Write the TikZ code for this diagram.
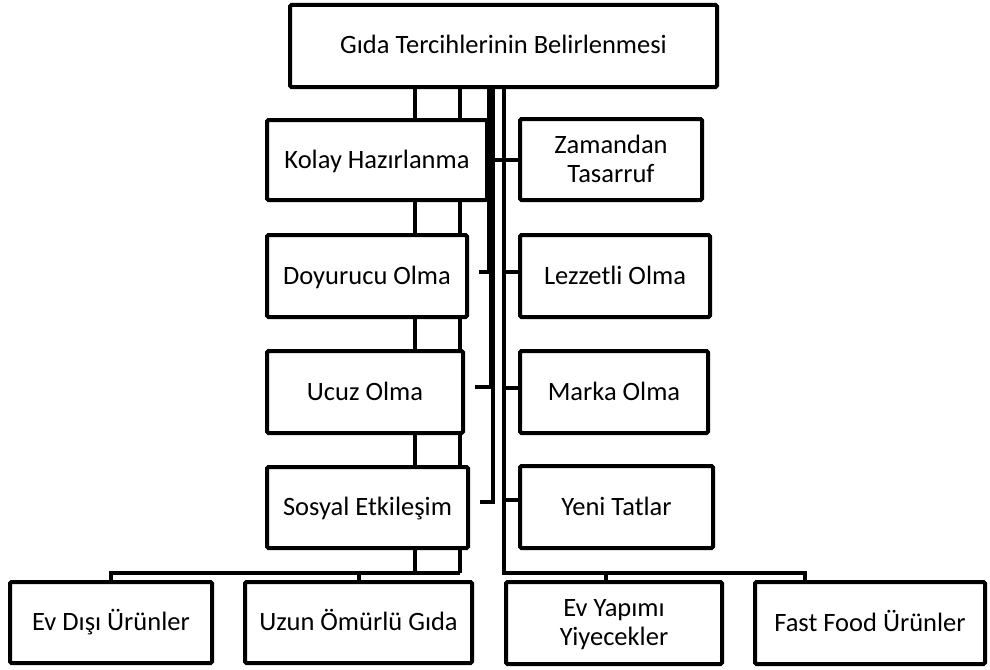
\documentclass[tikz,border=0pt]{standalone}
\usepackage{fontspec}
\setmainfont{Carlito}
\usetikzlibrary{backgrounds}
\begin{document}
\begin{tikzpicture}[x=1pt,y=-1pt,
  box/.style={draw, line width=4pt, fill=white, rounded corners=1.5pt, inner sep=0pt, align=center, text height=19pt, text depth=3pt, font=\fontsize{26.5}{29}\selectfont},
  twoline/.style={text height=48pt},
  conn/.style={line width=4pt}]
\useasboundingbox (0,0) rectangle (990,669);
% nodes
\node[box, minimum width=427pt, minimum height=82pt] (top) at (503.5,46) {Gıda Tercihlerinin Belirlenmesi};
\node[box, minimum width=220pt, minimum height=80pt] (kolay) at (377,160) {Kolay Hazırlanma};
\node[box, minimum width=200pt, minimum height=82pt] (doy) at (367,276) {Doyurucu Olma};
\node[box, minimum width=196pt, minimum height=82pt] (ucuz) at (365,392) {Ucuz Olma};
\node[box, minimum width=201pt, minimum height=81pt] (sosyal) at (367.5,507.5) {Sosyal Etkileşim};
\node[box, twoline, minimum width=182pt, minimum height=81pt] (zaman) at (611,159.5) {Zamandan\\Tasarruf};
\node[box, minimum width=190pt, minimum height=82pt] (lezz) at (615,276) {Lezzetli Olma};
\node[box, minimum width=188pt, minimum height=82pt] (marka) at (614,392) {Marka Olma};
\node[box, minimum width=193pt, minimum height=82pt] (yeni) at (616.5,507) {Yeni Tatlar};
\node[box, minimum width=202pt, minimum height=81pt] (evdisi) at (111,622.5) {Ev Dışı Ürünler};
\node[box, minimum width=227pt, minimum height=81pt] (uzun) at (358.5,622.5) {Uzun Ömürlü Gıda};
\node[box, twoline, minimum width=216pt, minimum height=82pt] (evyap) at (614,623) {Ev Yapımı\\Yiyecekler};
\node[box, minimum width=230pt, minimum height=82pt] (fast) at (870,623) {Fast Food Ürünler};
% trunk coordinates
\coordinate (ta) at (415,573);
\coordinate (tb) at (460,573);
\coordinate (td) at (489,0);
\coordinate (tu) at (491,0);
\coordinate (ts) at (493,0);
\coordinate (tz) at (495,0);
\coordinate (tR) at (504,573);
\coordinate (tf) at (805,573);
\begin{scope}[on background layer]
\draw[conn] (top.south -| ta) -- (ta);
\draw[conn] (top.south -| tb) -- (tb);
\draw[conn] (evdisi.north) -- (evdisi.north |- ta) -- (tb);
\draw[conn] (uzun.north) -- (uzun.north |- ta);
\draw[conn] (top.south -| td) |- ([xshift=10pt,yshift=4pt]doy.east);
\draw[conn] (top.south -| tu) |- ([xshift=10pt,yshift=5pt]ucuz.east);
\draw[conn] (top.south -| ts) |- ([xshift=10pt,yshift=6pt]sosyal.east);
\draw[conn] (top.south -| tR) -- (tR) -- (tf) -- (tf |- fast.north);
\draw[conn] ([xshift=-8pt]evyap.north) -- ([xshift=-8pt]evyap.north |- tR);
\draw[conn] (tz |- zaman.west) -- (zaman.west);
\draw[conn] ([yshift=4pt]lezz.west -| tR) -- ([yshift=4pt]lezz.west);
\draw[conn] ([yshift=4pt]marka.west -| tR) -- ([yshift=4pt]marka.west);
\draw[conn] ([yshift=7pt]yeni.west -| tR) -- ([yshift=7pt]yeni.west);
\end{scope}
\end{tikzpicture}
\end{document}
